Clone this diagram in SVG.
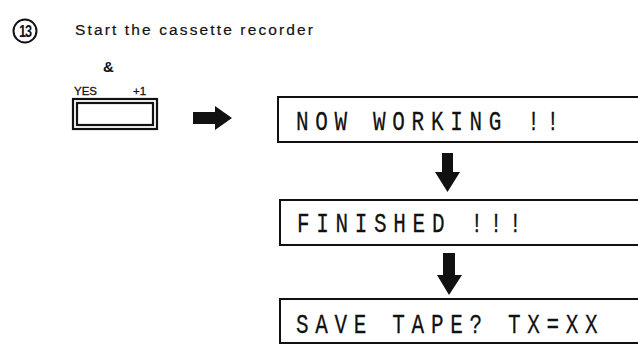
<svg xmlns="http://www.w3.org/2000/svg" width="638" height="347" viewBox="0 0 638 347">
<style>
.lbl{font-family:"Liberation Sans",Arial,sans-serif;fill:#111}
.lcd{font-family:"Liberation Mono","DejaVu Sans Mono",monospace;font-size:28px;letter-spacing:8.9px;fill:#111;stroke:#111;stroke-width:0.25}
.box{fill:#fff;stroke:#111;stroke-width:2}
.arr{fill:#111}
</style>
<rect width="638" height="347" fill="#fff"/>
<g id="step-number">
<ellipse cx="25" cy="31" rx="11.5" ry="11.5" fill="none" stroke="#111" stroke-width="2"/>
<text transform="translate(25,37) scale(0.75,1)" class="lbl" font-size="17" font-weight="bold" text-anchor="middle" letter-spacing="-1.5">13</text>
</g>
<g id="instruction">
<text x="75" y="35" class="lbl" font-size="15.5" stroke="#111" stroke-width="0.2" textLength="238" lengthAdjust="spacing">Start the cassette recorder</text>
<text x="103" y="72" class="lbl" font-size="15" font-weight="bold">&amp;</text>
</g>
<g id="yes-key">
<text x="74" y="95" class="lbl" font-size="11.5" stroke="#111" stroke-width="0.3">YES</text>
<text x="133" y="95" class="lbl" font-size="11.5" stroke="#111" stroke-width="0.3">+1</text>
<rect x="73" y="99" width="84" height="30" fill="none" stroke="#111" stroke-width="2.2"/>
<rect x="77" y="103" width="76" height="22" fill="none" stroke="#111" stroke-width="2.2"/>
</g>
<g id="connectors">
<polygon class="arr" points="193,112 215,112 215,106 232,118 215,130 215,124 193,124"/>
<polygon class="arr" points="442,153 453,153 453,172 460,172 447.5,192 435,172 442,172"/>
<polygon class="arr" points="443,253 455,253 455,275 462,275 449,295 437,275 443,275"/>
</g>
<g id="now-working">
<rect class="box" x="278" y="97" width="370" height="45"/>
<text transform="translate(296,130) scale(0.75,1)" class="lcd">NOW WORKING !!</text>
</g>
<g id="finished">
<rect class="box" x="280" y="200" width="370" height="45"/>
<text transform="translate(297,232) scale(0.75,1)" class="lcd">FINISHED !!!</text>
</g>
<g id="save-tape">
<rect class="box" x="280" y="299" width="370" height="44"/>
<text transform="translate(296,333) scale(0.75,1)" class="lcd">SAVE TAPE? TX=XX</text>
</g>
</svg>
